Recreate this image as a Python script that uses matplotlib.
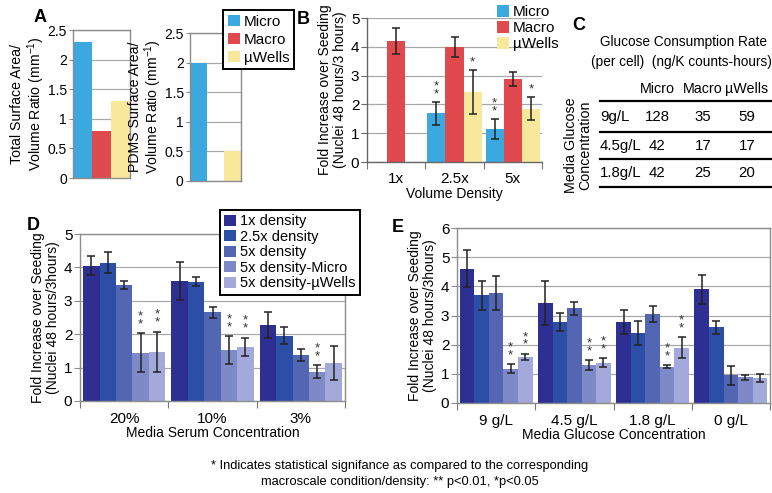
import numpy as np
import matplotlib
matplotlib.use("Agg")
from matplotlib import pyplot as plt
from matplotlib.patches import Patch
from matplotlib.lines import Line2D

plt.rcParams['font.family'] = ['Liberation Sans', 'DejaVu Sans']
plt.rcParams['font.size'] = 10
plt.rcParams['xtick.labelsize'] = 11
plt.rcParams['ytick.labelsize'] = 11
plt.rcParams['axes.labelsize'] = 10
plt.rcParams['mathtext.default'] = 'regular'

# ---- data ----
sys_names = ['Micro', 'Macro', 'µWells']
sys_colors = ['#3ca8e0', '#e04a4e', '#f7e89b']

a_total_sv = [2.3, 0.8, 1.3]
a_pdms_sv = [2.0, 0.0, 0.5]

b_groups = ['1x', '2.5x', '5x']
b_vals = {'Micro': [np.nan, 1.7, 1.15],
          'Macro': [4.2, 4.0, 2.88],
          'µWells': [np.nan, 2.42, 1.85]}
b_errs = {'Micro': [0, 0.4, 0.35],
          'Macro': [0.45, 0.35, 0.25],
          'µWells': [0, 0.77, 0.4]}
b_stars = [(1, 'Micro', '**'), (1, 'µWells', '*'), (2, 'Micro', '**'), (2, 'µWells', '*')]

c_title = ['Glucose Consumption Rate', '(per cell)  (ng/K counts-hours)']
c_rows = ['9g/L', '4.5g/L', '1.8g/L']
c_cols = ['Micro', 'Macro', 'µWells']
c_vals = [[128, 35, 59],
          [42, 17, 17],
          [42, 25, 20]]

dens_names = ['1x density', '2.5x density', '5x density', '5x density-Micro', '5x density-µWells']
dens_colors = ['#2e2f93', '#2d4ea6', '#5366b4', '#7e89c7', '#a3aadb']

d_groups = ['20%', '10%', '3%']
d_vals = [[4.05, 3.6, 2.27],
          [4.14, 3.57, 1.96],
          [3.46, 2.65, 1.39],
          [1.45, 1.52, 0.88],
          [1.48, 1.62, 1.14]]
d_errs = [[0.28, 0.57, 0.38],
          [0.31, 0.13, 0.25],
          [0.12, 0.15, 0.18],
          [0.58, 0.42, 0.19],
          [0.6, 0.28, 0.52]]
d_stars = [(0, 3), (0, 4), (1, 3), (1, 4), (2, 3)]

e_groups = ['9 g/L', '4.5 g/L', '1.8 g/L', '0 g/L']
e_vals = [[4.6, 3.42, 2.78, 3.9],
          [3.7, 2.78, 2.4, 2.6],
          [3.78, 3.25, 3.05, 0.95],
          [1.18, 1.3, 1.25, 0.88],
          [1.58, 1.38, 1.9, 0.85]]
e_errs = [[0.63, 0.75, 0.4, 0.5],
          [0.5, 0.32, 0.4, 0.22],
          [0.58, 0.23, 0.28, 0.33],
          [0.15, 0.18, 0.05, 0.09],
          [0.11, 0.16, 0.35, 0.13]]
e_stars = [(0, 3), (0, 4), (1, 3), (1, 4), (2, 3), (2, 4)]

footnote = ['* Indicates statistical signifance as compared to the corresponding',
            'macroscale condition/density: ** p<0.01, *p<0.05']

# ---- layout helpers (pixels) ----
W, H = 772, 493
fig = plt.figure(figsize=(W / 100, H / 100), dpi=100)


def rect(x0, y0, x1, y1):
  return [x0 / W, 1 - y1 / H, (x1 - x0) / W, (y1 - y0) / H]


def fx(x):
  return x / W


def fy(y):
  return 1 - y / H


def fmt(v):
  return ('%g' % v)


def style(ax, ymax, ystep, box=True, spine='#8c8c8c', tlen=4, tsize=11):
  ticks = np.arange(0, ymax + 1e-9, ystep)
  ax.set_ylim(0, ymax)
  ax.set_yticks(ticks)
  ax.set_yticklabels([fmt(t) for t in ticks])
  ax.yaxis.grid(True, color='#a8a8a8', lw=0.9)
  ax.set_axisbelow(True)
  for s in ax.spines.values():
    s.set_color(spine)
    s.set_linewidth(1.0)
  if not box:
    ax.spines['top'].set_visible(False)
    ax.spines['right'].set_visible(False)
  ax.tick_params(axis='y', length=tlen, width=0.8, color=spine, pad=1.5, labelsize=tsize)


def cat_axis(ax, labels, pad):
  n = len(labels)
  ax.set_xlim(0, n)
  ax.set_xticks(np.arange(n) + 0.5)
  ax.set_xticklabels(labels)
  ax.set_xticks(np.arange(n + 1), minor=True)
  ax.tick_params(axis='x', which='major', length=0, pad=pad)
  ax.tick_params(axis='x', which='minor', length=5, width=0.8, color='#777777')


# ---- Panel A ----
axA1 = fig.add_axes(rect(73, 30, 130, 178))
axA1.bar(range(3), a_total_sv, width=1.0, color=sys_colors)
axA1.set_xlim(-0.5, 2.5)
axA1.set_xticks([])
style(axA1, 2.5, 0.5, tlen=3, tsize=10)
axA1.set_ylabel('Total Surface Area/\nVolume Ratio (mm$^{-1}$)', linespacing=1.05, fontsize=10.2)
axA1.yaxis.set_label_coords(-0.46, 0.5)

axA2 = fig.add_axes(rect(190, 33, 241, 181))
axA2.bar(range(3), a_pdms_sv, width=1.0, color=sys_colors)
axA2.set_xlim(-0.5, 2.5)
axA2.set_xticks([])
style(axA2, 2.5, 0.5, tlen=3, tsize=10)
axA2.set_ylabel('PDMS Surface Area/\nVolume Ratio (mm$^{-1}$)', linespacing=1.05, fontsize=10.2)
axA2.yaxis.set_label_coords(-0.51, 0.5)

sys_handles = [Patch(facecolor=c, edgecolor='none') for c in sys_colors]
legA = fig.legend(sys_handles, sys_names, loc='upper left', bbox_to_anchor=(fx(223), fy(10)),
                  frameon=True, fancybox=False, edgecolor='black', framealpha=1, fontsize=11,
                  borderpad=0.3, handlelength=0.8, handleheight=0.8, handletextpad=0.25,
                  labelspacing=0.25, borderaxespad=0)
legA.get_frame().set_linewidth(1.4)

# ---- Panel B ----
axB = fig.add_axes(rect(367, 18, 542, 162))
bw = 0.31
for k, name in enumerate(sys_names):
  x = np.arange(3) + 0.5 + (k - 1) * bw
  v = np.array(b_vals[name])
  e = np.array(b_errs[name])
  axB.bar(x, v, width=bw, color=sys_colors[k])
  ok = ~np.isnan(v)
  axB.errorbar(x[ok], v[ok], yerr=e[ok], fmt='none', ecolor='#222222', elinewidth=1.1, capsize=3, capthick=1.1)
for g, name, s in b_stars:
  k = sys_names.index(name)
  top = b_vals[name][g] + b_errs[name][g]
  axB.annotate('\n'.join(s), (g + 0.5 + (k - 1) * bw, top), xytext=(0, 1), textcoords='offset points',
               ha='center', va='bottom', fontsize=9.5, linespacing=0.55, color='#333333')
style(axB, 5, 1, box=False, spine='#666666')
cat_axis(axB, b_groups, pad=7)
axB.set_xlabel('Volume Density', labelpad=1)
axB.set_ylabel('Fold Increase over Seeding\n(Nuclei 48 hours/3 hours)', labelpad=3, linespacing=1.1)
fig.legend(sys_handles, sys_names, loc='upper left', bbox_to_anchor=(fx(494), fy(2)),
           frameon=False, fontsize=11, handlelength=0.8, handleheight=0.8, handletextpad=0.25,
           labelspacing=0.12, borderaxespad=0, borderpad=0.2)

# ---- Panel C (table) ----
tfs = 10.8
fig.text(fx(683), fy(42), c_title[0], ha='center', va='center', fontsize=9.8)
fig.text(fx(681), fy(62), c_title[1], ha='center', va='center', fontsize=9.8)
col_x = [657, 703, 747]
row_y = [117, 146, 173]
for j, c in enumerate(c_cols):
  fig.text(fx(col_x[j]), fy(89), c, ha='center', va='center', fontsize=10.3)
for i, r in enumerate(c_rows):
  fig.text(fx(600), fy(row_y[i]), r, ha='left', va='center', fontsize=tfs)
  for j in range(len(c_cols)):
    fig.text(fx(col_x[j]), fy(row_y[i]), str(c_vals[i][j]), ha='center', va='center', fontsize=tfs)
for ly in [101, 132, 159, 187]:
  fig.add_artist(Line2D([fx(600), fx(771)], [fy(ly), fy(ly)], color='black', lw=1.6))
fig.text(fx(578), fy(145), 'Media Glucose\nConcentration', rotation=90, ha='center', va='center',
         fontsize=10.3, linespacing=1.05)


# ---- Panels D and E ----
def grouped(ax, groups, vals, errs, stars):
  n = len(groups)
  w = 0.186
  for k in range(5):
    x = np.arange(n) + 0.5 + (k - 2) * w
    ax.bar(x, vals[k], width=w, color=dens_colors[k])
    ax.errorbar(x, vals[k], yerr=errs[k], fmt='none', ecolor='#222222', elinewidth=1.1, capsize=3, capthick=1.1)
  for g, k in stars:
    top = vals[k][g] + errs[k][g]
    ax.annotate('*\n*', (g + 0.5 + (k - 2) * w, top), xytext=(0, 2), textcoords='offset points',
                ha='center', va='bottom', fontsize=9.5, linespacing=0.55, color='#333333')


axD = fig.add_axes(rect(80, 234, 345, 401))
grouped(axD, d_groups, d_vals, d_errs, d_stars)
style(axD, 5, 1)
cat_axis(axD, d_groups, pad=8)
axD.set_xlabel('Media Serum Concentration', labelpad=0)
axD.set_ylabel('Fold Increase over Seeding\n(Nuclei 48 hours/3hours)', labelpad=3, linespacing=1.1)

dens_handles = [Patch(facecolor=c, edgecolor='none') for c in dens_colors]
legD = fig.legend(dens_handles, dens_names, loc='upper left', bbox_to_anchor=(fx(220), fy(210)),
                  frameon=True, fancybox=False, edgecolor='black', framealpha=1, fontsize=10.5,
                  borderpad=0.3, handlelength=0.8, handleheight=0.8, handletextpad=0.25,
                  labelspacing=0.1, borderaxespad=0)
legD.get_frame().set_linewidth(1.4)

axE = fig.add_axes(rect(457, 228, 770, 403))
grouped(axE, e_groups, e_vals, e_errs, e_stars)
style(axE, 6, 1)
cat_axis(axE, e_groups, pad=8)
axE.set_xlabel('Media Glucose Concentration', labelpad=0)
axE.set_ylabel('Fold Increase over Seeding\n(Nuclei 48 hours/3hours)', labelpad=3, linespacing=1.1)

# ---- panel letters and footnote ----
for lab, x, y in [('A', 40, 18), ('B', 303, 20), ('C', 579, 25), ('D', 33, 225), ('E', 398, 228)]:
  fig.text(fx(x), fy(y), lab, ha='center', va='center', fontsize=13, fontweight='bold')
fig.text(fx(400), fy(466), footnote[0], ha='center', va='center', fontsize=9.3)
fig.text(fx(400), fy(482), footnote[1], ha='center', va='center', fontsize=9.3)

fig.savefig('out.png', dpi=100)
